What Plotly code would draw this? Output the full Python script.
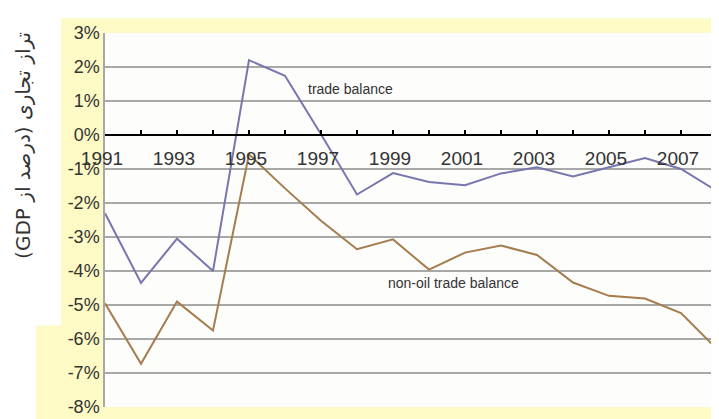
import plotly.graph_objects as go

years = list(range(1991, 2009))
tick_labels = [str(y) if (y - 1991) % 2 == 0 and y < 2008 else "" for y in years]
trade_balance = [-2.3, -4.35, -3.05, -4.0, 2.2, 1.74, 0.02, -1.75, -1.12, -1.38, -1.48,
                 -1.13, -0.95, -1.22, -0.95, -0.68, -1.0, -1.65]
non_oil_balance = [-4.95, -6.73, -4.9, -5.75, -0.57, -1.57, -2.52, -3.36, -3.07, -3.96, -3.46,
                   -3.25, -3.53, -4.34, -4.73, -4.81, -5.24, -6.3]
y_tick_vals = list(range(-8, 4))
y_tick_text = [f"{v}%" for v in y_tick_vals]
y_title = "\u202bتراز تجاری (درصد از GDP)\u202c"

fig = go.Figure()
fig.add_trace(go.Scatter(x=years, y=trade_balance, mode="lines",
                         line=dict(color="#7876ae", width=2), name="trade balance"))
fig.add_trace(go.Scatter(x=years, y=non_oil_balance, mode="lines",
                         line=dict(color="#a47c4e", width=2), name="non-oil trade balance"))

yellow = "#fdfac6"
L, R, T, B = 97, 10, 25, 13
W, H = 719, 419
pw, ph = W - L - R, H - T - B


def px(x):
    return (x - L) / pw


def py(y):
    return (H - B - y) / ph


fig.update_layout(
    width=W, height=H,
    margin=dict(l=L, r=R, t=T, b=B),
    paper_bgcolor="white",
    plot_bgcolor="#fdfdfc",
    showlegend=False,
    font=dict(family="Liberation Sans, DejaVu Sans, sans-serif", color="#333333"),
    xaxis=dict(range=[1991, 2008], anchor="free", position=8 / 11,
               tickvals=years, ticktext=tick_labels,
               showline=True, linecolor="black", linewidth=2,
               ticks="inside", ticklen=4, tickwidth=1.5, tickcolor="black",
               showgrid=False, zeroline=False,
               tickfont=dict(size=19, color="#333333"),
               ticklabelstandoff=6, ticklabelshift=-3),
    yaxis=dict(range=[-8, 3], tickvals=y_tick_vals, ticktext=y_tick_text,
               showgrid=True, gridcolor="#a8a8a8", gridwidth=1.5,
               showline=True, linecolor="#a8a8a8", linewidth=1.5,
               zeroline=False, ticks="",
               tickfont=dict(size=18, color="#333333")),
    shapes=[
        dict(type="rect", xref="paper", yref="paper", layer="below",
             x0=px(53), x1=px(719), y0=py(419), y1=py(10),
             fillcolor=yellow, line=dict(width=0)),
        dict(type="rect", xref="paper", yref="paper", layer="below",
             x0=px(28), x1=px(53), y0=py(419), y1=py(323),
             fillcolor=yellow, line=dict(width=0)),
        dict(type="rect", xref="paper", yref="paper", layer="below",
             x0=0, x1=1, y0=0, y1=1,
             fillcolor="#fdfdfc", line=dict(width=0)),
    ],
    annotations=[
        dict(x=1997.83, y=1.36, xref="x", yref="y", text="trade balance",
             showarrow=False, font=dict(size=14, color="#333333")),
        dict(x=2000.67, y=-4.36, xref="x", yref="y", text="non-oil trade balance",
             showarrow=False, font=dict(size=14, color="#333333")),
        dict(x=px(15), y=py(140), xref="paper", yref="paper", text=y_title,
             textangle=-90, showarrow=False, xanchor="center", yanchor="middle",
             font=dict(size=20, family="DejaVu Sans", color="#333333")),
    ],
)

fig.write_html("out.html")
